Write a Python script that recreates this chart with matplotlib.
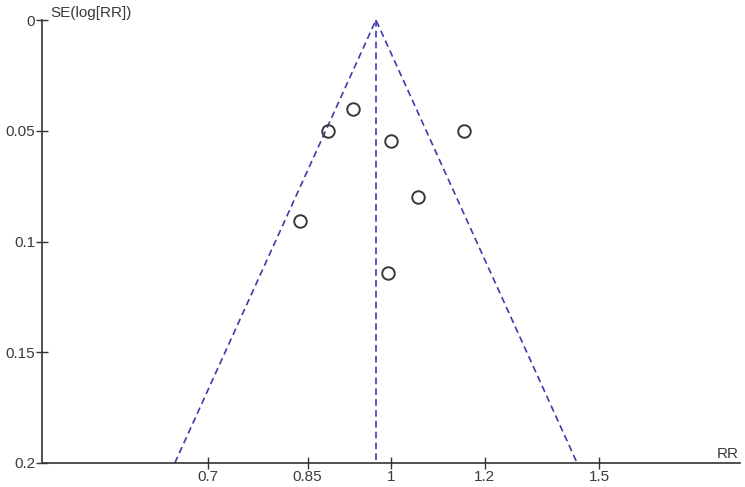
import numpy as np
import matplotlib.pyplot as plt
from matplotlib.ticker import FixedLocator, NullLocator, NullFormatter

# study estimates
rr = [0.928, 0.885, 0.999, 1.152, 1.054, 0.838, 0.9935]
se = [0.040, 0.050, 0.0545, 0.050, 0.080, 0.0907, 0.114]
pooled_rr = 0.971
se_max = 0.2

x_ticks = [0.7, 0.85, 1, 1.2, 1.5]
x_labels = ['0.7', '0.85', '1', '1.2', '1.5']
y_ticks = [0, 0.05, 0.1, 0.15, 0.2]
y_labels = ['0', '0.05', '0.1', '0.15', '0.2']

plt.rcParams['font.family'] = ['Liberation Sans', 'DejaVu Sans']
fig = plt.figure(figsize=(7.45, 4.87), dpi=100)
ax = fig.add_axes([42 / 745, 24 / 487, 698 / 745, 443 / 487])

axis_col = '#333333'
text_col = '#3a3a3a'
line_col = '#3c3cac'

# funnel and pooled line
lo = np.exp(np.log(pooled_rr) - 1.96 * se_max)
hi = np.exp(np.log(pooled_rr) + 1.96 * se_max)
ax.plot([lo, pooled_rr, hi], [se_max, 0, se_max], ls=(0, (4, 2.5)),
        color=line_col, lw=1.2, clip_on=False)
ax.plot([pooled_rr, pooled_rr], [0, se_max], ls=(0, (4, 2.5)),
        color=line_col, lw=1.2, clip_on=False)

ax.plot(rr, se, 'o', ms=9, mfc='none', mec='#383838', mew=1.4,
        clip_on=False)

ax.set_xscale('log')
ax.set_xlim(0.5065, 1.974)
ax.set_ylim(se_max, 0)
ax.xaxis.set_major_locator(FixedLocator(x_ticks))
ax.set_xticklabels(x_labels)
ax.xaxis.set_minor_locator(NullLocator())
ax.xaxis.set_minor_formatter(NullFormatter())
ax.set_yticks(y_ticks)
ax.set_yticklabels(y_labels)

for s in ['top', 'right']:
    ax.spines[s].set_visible(False)
for s in ['left', 'bottom']:
    ax.spines[s].set_color(axis_col)
    ax.spines[s].set_linewidth(1.2)
ax.tick_params(direction='inout', length=8, width=1, colors=axis_col,
               labelsize=11, labelcolor=text_col, pad=1)

ax.text(0.012, 1.0, 'SE(log[RR])', transform=ax.transAxes, fontsize=11,
        color=text_col, va='bottom', ha='left')
ax.text(0.998, 0.005, 'RR', transform=ax.transAxes, fontsize=11,
        color=text_col, va='bottom', ha='right')

fig.savefig('out.png', dpi=100)
